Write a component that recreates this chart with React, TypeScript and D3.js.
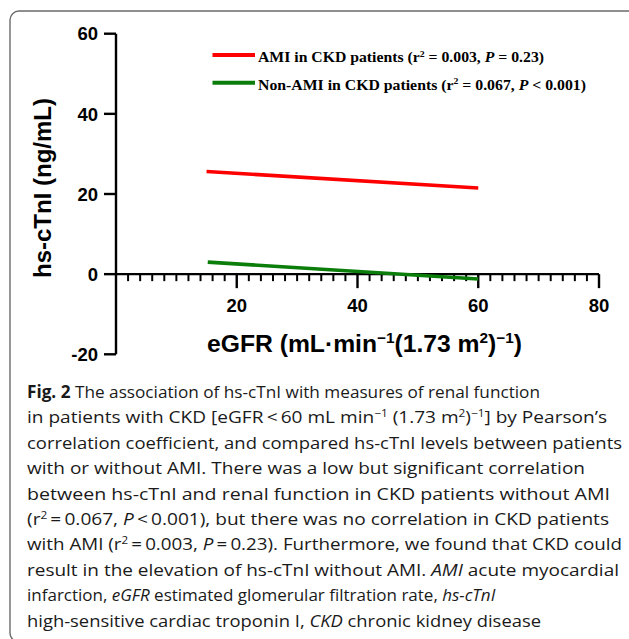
import React from "react"
import * as d3 from "d3"

// regression lines (eGFR vs hs-cTnI)
const amiLine = [{ x: 15, y: 25.6 }, { x: 60, y: 21.5 }]
const nonAmiLine = [{ x: 15.2, y: 3.0 }, { x: 60, y: -1.2 }]

const seriesNames = ["AMI in CKD patients", "Non-AMI in CKD patients"]
const seriesR2 = ["0.003", "0.067"]
const seriesP = ["= 0.23", "< 0.001"]
const seriesColors = ["#ff0000", "#0a7d0a"]

const yTicks = [60, 40, 20, 0, -20]
const xMajorTicks = [20, 40, 60, 80]
const xMinorStep = 2

type Seg = { t: string; b?: boolean; i?: boolean; sup?: boolean }

// caption, one entry per printed line
const captionLines: Seg[][] = [
  [{ t: "Fig. 2", b: true }, { t: "  The association of hs-cTnI with measures of renal function" }],
  [{ t: "in patients with CKD [eGFR\u2009<\u200960 mL min" }, { t: "\u22121", sup: true }, { t: " (1.73 m" }, { t: "2", sup: true }, { t: ")" }, { t: "\u22121", sup: true }, { t: "] by Pearson\u2019s" }],
  [{ t: "correlation coefficient, and compared hs-cTnI levels between patients" }],
  [{ t: "with or without AMI. There was a low but significant correlation" }],
  [{ t: "between hs-cTnI and renal function in CKD patients without AMI" }],
  [{ t: "(r" }, { t: "2", sup: true }, { t: "\u2009=\u20090.067, " }, { t: "P", i: true }, { t: "\u2009<\u20090.001), but there was no correlation in CKD patients" }],
  [{ t: "with AMI (r" }, { t: "2", sup: true }, { t: "\u2009=\u20090.003, " }, { t: "P", i: true }, { t: "\u2009=\u20090.23). Furthermore, we found that CKD could" }],
  [{ t: "result in the elevation of hs-cTnI without AMI. " }, { t: "AMI", i: true }, { t: " acute myocardial" }],
  [{ t: "infarction, " }, { t: "eGFR", i: true }, { t: " estimated glomerular filtration rate, " }, { t: "hs-cTnI", i: true }],
  [{ t: "high-sensitive cardiac troponin I, " }, { t: "CKD", i: true }, { t: " chronic kidney disease" }],
]
// right ends of the caption lines (0 = leave at natural width)
const captionEnds = [540, 607, 622, 585, 610, 609, 622, 619, 0, 541]

const W = 629
const H = 639

function Segs({ segs, size }: { segs: Seg[]; size: number }) {
  // superscripts are raised then dropped back
  const out: JSX.Element[] = []
  segs.forEach((s, k) => {
    if (s.sup) {
      out.push(<tspan key={k} dy={-size * 0.38} fontSize={size * 0.62}>{s.t}</tspan>)
    } else {
      const prevSup = k > 0 && segs[k - 1].sup
      out.push(
        <tspan key={k} dy={prevSup ? size * 0.38 : 0} fontWeight={s.b ? 700 : undefined} fontStyle={s.i ? "italic" : undefined}>
          {s.t}
        </tspan>
      )
    }
  })
  return <>{out}</>
}

export default function App() {
  const x = d3.scaleLinear().domain([0, 80]).range([116, 599])
  const y = d3.scaleLinear().domain([-20, 60]).range([354.3, 33.7])

  const line = d3.line<{ x: number; y: number }>()
    .x(d => x(d.x))
    .y(d => y(d.y))

  const minorTicks = d3.range(xMinorStep, 80, xMinorStep).filter(v => v % 20 !== 0)
  const axisFont = "'Liberation Sans', Arial, sans-serif"

  return (
    <svg width={W} height={H} style={{ position: "absolute", left: 0, top: 0, display: "block", background: "#fff" }}>
      <rect x={10} y={11} width={640} height={631} rx={9} fill="none" stroke="#6b6b6b" strokeWidth={1.4} />

      {/* y axis */}
      <line x1={x(0)} x2={x(0)} y1={y(60)} y2={y(-20)} stroke="#000" strokeWidth={2.4} />
      {yTicks.map(t => (
        <g key={t}>
          <line x1={x(0) - 12} x2={x(0)} y1={y(t)} y2={y(t)} stroke="#000" strokeWidth={2.4} />
          <text x={98} y={y(t)} dy="0.36em" textAnchor="end" fontFamily={axisFont} fontWeight={700} fontSize={18.5}>{t}</text>
        </g>
      ))}

      {/* x axis */}
      <line x1={x(0)} x2={x(80)} y1={y(0)} y2={y(0)} stroke="#000" strokeWidth={2.4} />
      {minorTicks.map(t => (
        <line key={t} x1={x(t)} x2={x(t)} y1={y(0)} y2={y(0) + 7} stroke="#000" strokeWidth={2} />
      ))}
      {xMajorTicks.map(t => (
        <g key={t}>
          <line x1={x(t)} x2={x(t)} y1={y(0)} y2={y(0) + 14} stroke="#000" strokeWidth={2.4} />
          <text x={x(t)} y={312} textAnchor="middle" fontFamily={axisFont} fontWeight={700} fontSize={18.5}>{t}</text>
        </g>
      ))}

      {/* axis titles */}
      <text transform="translate(43,188) rotate(-90)" textAnchor="middle" dy="0.36em" fontFamily={axisFont} fontWeight={700} fontSize={23} textLength={180} lengthAdjust="spacingAndGlyphs">
        hs-cTnI (ng/mL)
      </text>
      <text x={207} y={352} fontFamily={axisFont} fontWeight={700} fontSize={23.5} textLength={315} lengthAdjust="spacingAndGlyphs">
        <Segs size={23.5} segs={[{ t: "eGFR (mL\u00b7min" }, { t: "\u22121", sup: true }, { t: "(1.73 m" }, { t: "2", sup: true }, { t: ")" }, { t: "\u22121", sup: true }, { t: ")" }]} />
      </text>

      {/* regression lines */}
      <path d={line(amiLine) || ""} fill="none" stroke={seriesColors[0]} strokeWidth={3.6} />
      <path d={line(nonAmiLine) || ""} fill="none" stroke={seriesColors[1]} strokeWidth={3.6} />

      {/* legend */}
      {seriesNames.map((name, i) => {
        const ly = 55 + i * 27.7
        return (
          <g key={name}>
            <line x1={212.5} x2={255} y1={ly} y2={ly} stroke={seriesColors[i]} strokeWidth={4} />
            <text x={258} y={ly + 7} fontFamily="'Liberation Serif', 'Times New Roman', serif" fontWeight={700} fontSize={14}
              textLength={i === 0 ? 286 : 328} lengthAdjust="spacingAndGlyphs">
              <Segs size={14} segs={[{ t: name + " (r" }, { t: "2", sup: true }, { t: " = " + seriesR2[i] + ", " }, { t: "P", i: true }, { t: " " + seriesP[i] + ")" }]} />
            </text>
          </g>
        )
      })}

      {/* caption */}
      {captionLines.map((segs, i) => (
        <text key={i} x={27} y={398 + i * 25.4} fontFamily="'Open Sans', 'Noto Sans', sans-serif" fontSize={17} fill="#1a1a1a"
          textLength={captionEnds[i] ? captionEnds[i] - 27 : undefined} lengthAdjust={captionEnds[i] ? "spacingAndGlyphs" : undefined}>
          <Segs size={17} segs={segs} />
        </text>
      ))}
    </svg>
  )
}
